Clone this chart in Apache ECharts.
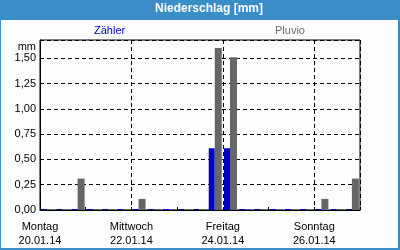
<!DOCTYPE html>
<html>
<head>
<meta charset="utf-8">
<script src="https://cdn.jsdelivr.net/npm/echarts@6/dist/echarts.min.js"></script>
<style>
html,body{margin:0;padding:0;background:#fcfdfd;}
#c{width:400px;height:250px;}
</style>
</head>
<body>
<div id="c"></div>
<script>
// Time in hours since Monday 20.01.14 00:00; each value is an 8-hour slot (midpoint)
const slotHours = [4,12,20, 28,36,44, 52,60,68, 76,84,92, 100,108,116, 124,132,140, 148,156,164];
const zaehler   = [0,0,0, 0,0,0, 0,0,0, 0,0,0.61, 0.61,0,0, 0,0,0, 0,0,0];
const pluvio    = [0,0,0.31, 0,0,0, 0.11,0,0, 0,0,1.60, 1.51,0,0, 0,0,0, 0.11,0,0.31];
const dayLabels = ['Montag\n20.01.14','Mittwoch\n22.01.14','Freitag\n24.01.14','Sonntag\n26.01.14'];
const yTicks = [0,0.25,0.5,0.75,1.0,1.25,1.5];

const font = 'Liberation Sans';
const chart = echarts.init(document.getElementById('c'), null, {renderer:'canvas'});
chart.setOption({
  backgroundColor: '#fcfdfd',
  animation: false,
  graphic: [
    {type:'rect', shape:{x:0,y:0,width:400,height:20}, style:{fill:'#3a8dc6'}, z:-1},
    {type:'rect', shape:{x:0,y:0,width:1,height:250}, style:{fill:'#3a8dc6'}, z:-1},
    {type:'rect', shape:{x:398,y:0,width:2,height:250}, style:{fill:'#3a8dc6'}, z:-1},
    {type:'rect', shape:{x:0,y:248,width:400,height:2}, style:{fill:'#3a8dc6'}, z:-1}
  ],
  title: {
    text: 'Niederschlag [mm]', left: 155, top: 3, padding: 0,
    textStyle: {color:'#ffffff', fontFamily: font, fontSize: 12, fontWeight: 'bold'}
  },
  legend: [
    {data:[{name:'Zähler', textStyle:{color:'#0000b4'}}], left: 89, top: 25, itemWidth:0, itemHeight:0, padding:0,
     textStyle:{fontFamily:font, fontSize:11}, selectedMode:false},
    {data:[{name:'Pluvio', textStyle:{color:'#6a6a6a'}}], left: 270, top: 25, itemWidth:0, itemHeight:0, padding:0,
     textStyle:{fontFamily:font, fontSize:11}, selectedMode:false}
  ],
  grid: {left:40, right:40, top:40, bottom:40, show:true, borderColor:'#000', borderWidth:1, backgroundColor:'transparent'},
  xAxis: [
    {type:'value', min:0, max:168, interval:24,
     axisLine:{show:true, lineStyle:{color:'#000', width:1}},
     axisTick:{show:true, inside:true, length:3, lineStyle:{color:'#000'}},
     splitLine:{show:false},
     axisLabel:{margin:10, color:'#000', fontFamily:font, fontSize:11, lineHeight:14,
       formatter: v => (v % 48 === 0 && dayLabels[v/48]) ? dayLabels[v/48] : ''}},
    {type:'value', min:0, max:168, interval:48, position:'bottom', z:3,
     axisLine:{show:false}, axisTick:{show:false}, axisLabel:{show:false},
     splitLine:{show:true, lineStyle:{color:'#000', type:[4,3], width:1}}}
  ],
  yAxis: {
    type:'value', min:0, max:1.68, interval:0.25,
    name:'mm', nameLocation:'end', nameGap:-12,
    nameTextStyle:{color:'#000', fontFamily:font, fontSize:11, align:'right', padding:[0,4,0,0]},
    axisLine:{show:true, lineStyle:{color:'#000'}},
    axisTick:{show:false},
    axisLabel:{margin:4, color:'#000', fontFamily:font, fontSize:11,
      formatter: v => yTicks.some(t => Math.abs(t - v) < 1e-6) ? v.toFixed(2).replace('.', ',') : ''},
    splitLine:{show:true, lineStyle:{color:'#000', type:[4,3], width:1}}
  },
  series: [
    {name:'Zähler', type:'bar', xAxisIndex:0, barWidth:6, barGap:'0%', barMinHeight:1,
     itemStyle:{color:'#0000c8'}, data: slotHours.map((h,i)=>[h, zaehler[i]])},
    {name:'Pluvio', type:'bar', xAxisIndex:0, barWidth:7, barGap:'0%', barMinHeight:1,
     itemStyle:{color:'#666666'}, data: slotHours.map((h,i)=>[h, pluvio[i]])}
  ]
});
</script>
</body>
</html>
